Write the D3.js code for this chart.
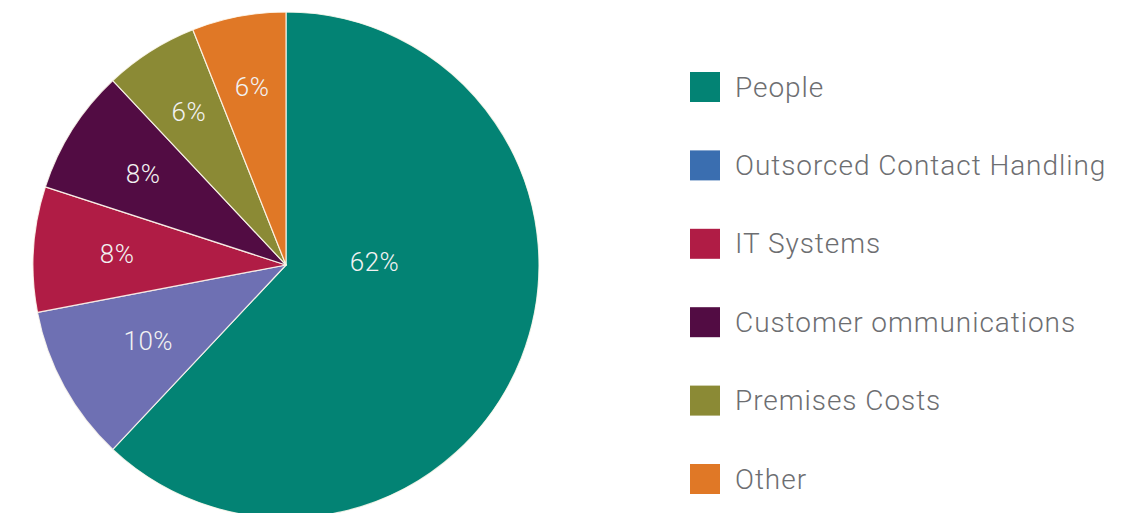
<!DOCTYPE html>
<html>
<head>
<meta charset="utf-8">
<script src="https://cdn.jsdelivr.net/npm/d3@7"></script>
<style>
  html, body { margin: 0; padding: 0; background: #ffffff; }
  svg { display: block; }
</style>
</head>
<body>
<svg id="chart" width="1135" height="513"></svg>
<script>
const categories = ["People", "Outsorced Contact Handling", "IT Systems", "Customer ommunications", "Premises Costs", "Other"];
const values = [62, 10, 8, 8, 6, 6];
const sliceColors = ["#038374", "#6e70b3", "#b01c45", "#520c43", "#8b8a35", "#e07826"];
const legendColors = ["#038374", "#3a6eb0", "#b01c45", "#520c43", "#8b8a35", "#e07826"];
const labelText = values.map(v => v + "%");

const W = 1135, H = 513;
const cx = 286, cy = 265, R = 253;
const svg = d3.select("#chart");
const FONT = "Roboto, 'Liberation Sans', sans-serif";

const data = categories.map((c, i) => ({ cat: c, value: values[i], i }));
const pie = d3.pie().value(d => d.value).sort(null);
const arcs = pie(data);
const arc = d3.arc().innerRadius(0).outerRadius(R);

const g = svg.append("g").attr("transform", `translate(${cx},${cy})`);
g.selectAll("path.slice").data(arcs).join("path")
  .attr("class", "slice")
  .attr("d", arc)
  .attr("fill", d => sliceColors[d.data.i])
  .attr("stroke", "rgba(255,250,240,0.85)")
  .attr("stroke-width", 1.2)
  .attr("stroke-linejoin", "round");

// label placement: narrow slices push labels further out
function labelPos(d) {
  const span = d.endAngle - d.startAngle;
  if (span > Math.PI) {
    const a = Math.PI / 2 - 0.03, r = R * 0.35;
    return [r * Math.sin(a), -r * Math.cos(a)];
  }
  const a = (d.startAngle + d.endAngle) / 2;
  const r = R * (0.86 - 0.38 * span);
  return [r * Math.sin(a), -r * Math.cos(a)];
}
g.selectAll("text.lbl").data(arcs).join("text")
  .attr("class", "lbl")
  .attr("x", d => labelPos(d)[0])
  .attr("y", d => labelPos(d)[1])
  .attr("text-anchor", "middle")
  .attr("dominant-baseline", "central")
  .attr("font-family", FONT)
  .attr("font-weight", 300)
  .attr("font-size", 26)
  .attr("letter-spacing", 0.5)
  .attr("fill", "#f2f2f2")
  .text(d => labelText[d.data.i]);

// legend
const legendY = d3.scalePoint().domain(categories).range([87, 479]);
const lg = svg.append("g");
const rows = lg.selectAll("g.row").data(data).join("g")
  .attr("class", "row")
  .attr("transform", d => `translate(690,${legendY(d.cat)})`);
rows.append("rect")
  .attr("x", 0).attr("y", -15)
  .attr("width", 30).attr("height", 30)
  .attr("fill", d => legendColors[d.i]);
rows.append("text")
  .attr("x", 45).attr("y", 0)
  .attr("dominant-baseline", "central")
  .attr("font-family", FONT)
  .attr("font-weight", 300)
  .attr("font-size", 28)
  .attr("letter-spacing", 0.95)
  .attr("fill", "#6d6e71")
  .text(d => d.cat);
</script>
</body>
</html>
